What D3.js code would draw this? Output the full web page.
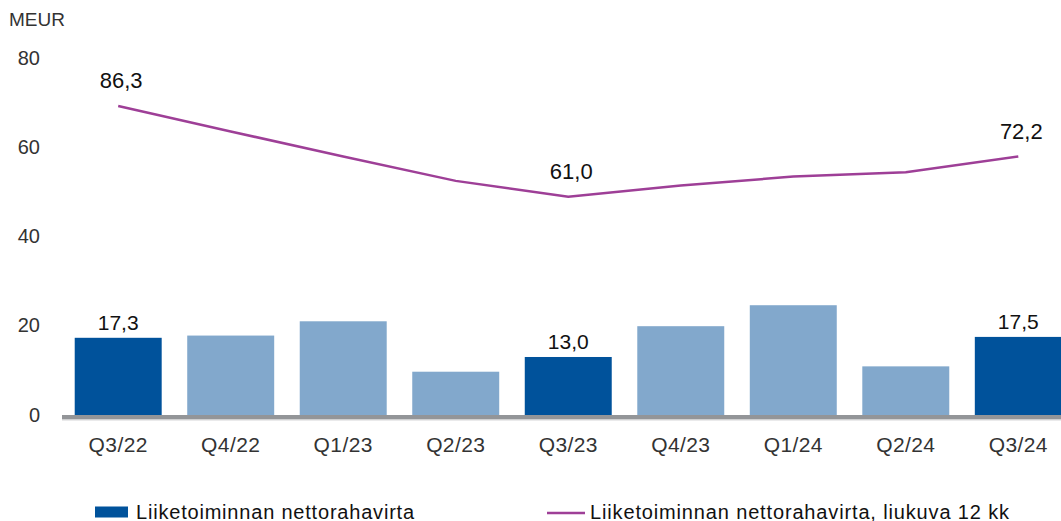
<!DOCTYPE html>
<meta charset='utf-8'>
<style>
  body { margin: 0; background: #fff; }
  text { font-family: 'Liberation Sans', Arial, sans-serif; }
</style>
<div id='chart'></div>
<script src='https://d3js.org/d3.v7.min.js'></script>
<script>

  // data
  var quarters = ['Q3/22', 'Q4/22', 'Q1/23', 'Q2/23', 'Q3/23', 'Q4/23', 'Q1/24', 'Q2/24', 'Q3/24'];
  var cashflow = [17.3, 17.8, 21.0, 9.7, 13.0, 19.9, 24.6, 10.9, 17.5];
  var rolling12 = [86.3, 79.2, 72.2, 65.4, 61.0, 64.1, 66.6, 67.8, 72.2];
  var yTicks = [0, 20, 40, 60, 80];
  var highlighted = ['Q3/22', 'Q3/23', 'Q3/24'];
  var unitLabel = 'MEUR';
  var seriesNames = ['Liiketoiminnan nettorahavirta', 'Liiketoiminnan nettorahavirta, liukuva 12 kk'];

  var width = 1061, height = 521;
  var darkBlue = '#00529b', lightBlue = '#82a8cc', purple = '#9e3f97';

  var fi = d3.formatLocale({decimal: ',', thousands: ' ', grouping: [3], currency: ['', ' €']});
  var fmt = fi.format('.1f');

  var svg = d3.select('#chart')
    .append('svg')
      .attr('width', width)
      .attr('height', height);

  var x = d3.scaleBand()
    .domain(quarters)
    .range([62, 1074.5])
    .paddingInner(0.227)
    .paddingOuter(0.113);

  var y = d3.scaleLinear()
    .domain([0, 80])
    .range([415, 58]);

  // line is drawn against a hidden secondary axis
  var y2 = d3.scaleLinear()
    .domain([0, 100])
    .range([415, 57]);

  // unit
  svg.append('text')
    .attr('x', 9)
    .attr('y', 26)
    .style('font-size', '19px')
    .style('fill', '#333')
    .text(unitLabel);

  // y axis labels only
  var yAxis = svg.append('g')
    .attr('transform', 'translate(40,0)')
    .call(d3.axisLeft(y).tickValues(yTicks).tickSize(0).tickPadding(0));
  yAxis.select('.domain').remove();
  yAxis.selectAll('text')
    .attr('dy', '0.3em')
    .style('font-size', '20px')
    .style('font-family', "'Liberation Sans', Arial, sans-serif")
    .style('fill', '#333');

  // bars
  svg.append('g')
    .selectAll('rect')
    .data(quarters)
    .enter()
    .append('rect')
      .attr('x', function (d) { return x(d); })
      .attr('y', function (d, i) { return y(cashflow[i]); })
      .attr('width', x.bandwidth())
      .attr('height', function (d, i) { return y(0) - y(cashflow[i]); })
      .style('fill', function (d) { return highlighted.indexOf(d) >= 0 ? darkBlue : lightBlue; });

  // baseline
  svg.append('rect')
    .attr('x', 62)
    .attr('y', y(0))
    .attr('width', width - 62)
    .attr('height', 4.5)
    .style('fill', '#939598');
  svg.append('rect')
    .attr('x', 62)
    .attr('y', y(0) + 4.5)
    .attr('width', width - 62)
    .attr('height', 1)
    .style('fill', '#d6d6d8');

  // x axis labels
  var xAxis = svg.append('g')
    .attr('transform', 'translate(0,' + (y(0) + 30) + ')')
    .call(d3.axisBottom(x).tickSize(0).tickPadding(0));
  xAxis.select('.domain').remove();
  xAxis.selectAll('text')
    .attr('dy', '0.35em')
    .style('font-size', '21px')
    .style('letter-spacing', '0.4px')
    .style('font-family', "'Liberation Sans', Arial, sans-serif")
    .style('fill', '#333');

  // bar value labels
  svg.append('g')
    .selectAll('text')
    .data(quarters.filter(function (d) { return highlighted.indexOf(d) >= 0; }))
    .enter()
    .append('text')
      .attr('x', function (d) { return x(d) + x.bandwidth() / 2; })
      .attr('y', function (d) { return y(cashflow[quarters.indexOf(d)]) - 8; })
      .attr('text-anchor', 'middle')
      .style('font-size', '21px')
      .style('fill', '#111')
      .text(function (d) { return fmt(cashflow[quarters.indexOf(d)]); });

  // rolling 12 month line
  var line = d3.line()
    .x(function (d, i) { return x(quarters[i]) + x.bandwidth() / 2; })
    .y(function (d) { return y2(d); });

  svg.append('path')
    .datum(rolling12)
    .attr('d', line)
    .style('fill', 'none')
    .style('stroke', purple)
    .style('stroke-width', 2.5);

  svg.append('g')
    .selectAll('text')
    .data(quarters.filter(function (d) { return highlighted.indexOf(d) >= 0; }))
    .enter()
    .append('text')
      .attr('x', function (d) { return x(d) + x.bandwidth() / 2 + 3; })
      .attr('y', function (d) { return y2(rolling12[quarters.indexOf(d)]) - 18; })
      .attr('text-anchor', 'middle')
      .style('font-size', '22px')
      .style('fill', '#111')
      .text(function (d) { return fmt(rolling12[quarters.indexOf(d)]); });

  // legend
  var legend = svg.append('g');
  legend.append('rect')
    .attr('x', 95)
    .attr('y', 506.5)
    .attr('width', 33)
    .attr('height', 11)
    .style('fill', darkBlue);
  legend.append('text')
    .attr('x', 136)
    .attr('y', 518.5)
    .style('font-size', '20px')
    .style('letter-spacing', '0.8px')
    .style('fill', '#111')
    .text(seriesNames[0]);
  legend.append('line')
    .attr('x1', 547)
    .attr('x2', 585)
    .attr('y1', 513)
    .attr('y2', 513)
    .style('stroke', purple)
    .style('stroke-width', 2.5);
  legend.append('text')
    .attr('x', 590)
    .attr('y', 518.5)
    .style('font-size', '20px')
    .style('letter-spacing', '0.85px')
    .style('fill', '#111')
    .text(seriesNames[1]);

</script>
